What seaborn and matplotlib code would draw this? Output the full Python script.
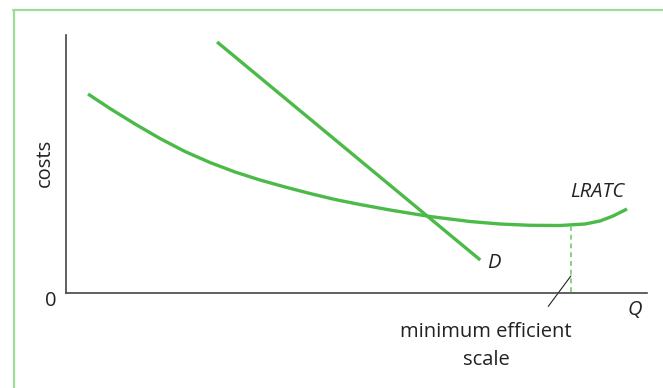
import matplotlib
matplotlib.use("Agg")
import matplotlib.pyplot as plt
import seaborn as sns
import pandas as pd
from matplotlib.lines import Line2D

sns.set_style("white")
plt.rcParams['font.family'] = ['Open Sans', 'DejaVu Sans']

# LRATC curve (Q, cost)
lratc_q = [3.79, 7.57, 11.88, 16.18, 20.48, 24.78, 29.09, 33.39, 37.69, 41.99, 46.30,
           50.60, 55.77, 62.65, 69.54, 74.70, 79.86, 85.03, 89.33, 91.91, 94.15, 96.56]
lratc_c = [77.13, 71.51, 65.50, 59.88, 54.84, 50.58, 46.90, 43.80, 41.09, 38.57, 36.24,
           34.30, 32.17, 29.65, 27.71, 26.74, 26.24, 26.16, 26.74, 27.91, 29.84, 32.56]
# Demand line
d_q = [26.0, 71.3]
d_c = [97.3, 12.8]
# Minimum efficient scale
mes_q = 86.9
mes_c = 26.0

GREEN = "#4cba48"
LIGHT = "#86d27f"
AXC = "#444444"
TXT = "#222222"

W, H = 663, 388
fig = plt.figure(figsize=(W/100, H/100), dpi=100)
x0, x1 = 66, 647
yb, yt = 293, 35
ax = fig.add_axes([x0/W, (H-yb)/H, (x1-x0)/W, (yb-yt)/H])
ax.set_xlim(0, 100)
ax.set_ylim(0, 100)

df_l = pd.DataFrame({"Q": lratc_q, "cost": lratc_c})
df_d = pd.DataFrame({"Q": d_q, "cost": d_c})
sns.lineplot(data=df_l, x="Q", y="cost", ax=ax, color=GREEN, lw=2.4, sort=False,
             solid_joinstyle="round", solid_capstyle="butt")
sns.lineplot(data=df_d, x="Q", y="cost", ax=ax, color=GREEN, lw=2.4, sort=False,
             solid_capstyle="butt")
ax.plot([mes_q, mes_q], [mes_c, 0.5], color=LIGHT, lw=1.4, ls=(0, (2.5, 2)))
ax.plot([mes_q - 3.9, mes_q], [-5.2, 6.6], color=TXT, lw=0.8, clip_on=False)

for s in ["top", "right"]:
    ax.spines[s].set_visible(False)
for s in ["left", "bottom"]:
    ax.spines[s].set_color(AXC)
    ax.spines[s].set_linewidth(1.2)
ax.set_xticks([])
ax.set_yticks([])
ax.set_xlabel("")
ax.set_ylabel("")

fs = 14.5
fig.text(45/W, 1-163/H, "costs", rotation=90, ha="center", va="center", fontsize=fs, color=TXT)
fig.text(51/W, 1-301/H, "0", ha="center", va="center", fontsize=fs, color=TXT)
fig.text(635/W, 1-310/H, "Q", ha="center", va="center", fontsize=fs, style="italic", color=TXT)
fig.text(494/W, 1-263/H, "D", ha="center", va="center", fontsize=fs, style="italic", color=TXT)
fig.text(597/W, 1-192/H, "LRATC", ha="center", va="center", fontsize=fs, style="italic", color=TXT)
fig.text(486/W, 1-346/H, "minimum efficient\nscale", ha="center", va="center", fontsize=fs,
         color=TXT, linespacing=1.5)

# light green frame (top and left)
fig.add_artist(Line2D([13/W, 1], [1-10/H, 1-10/H], transform=fig.transFigure, color="#9edc98", lw=1.6))
fig.add_artist(Line2D([13.5/W, 13.5/W], [0, 1-10/H], transform=fig.transFigure, color="#9edc98", lw=1.6))

fig.savefig("out.png", dpi=100)
